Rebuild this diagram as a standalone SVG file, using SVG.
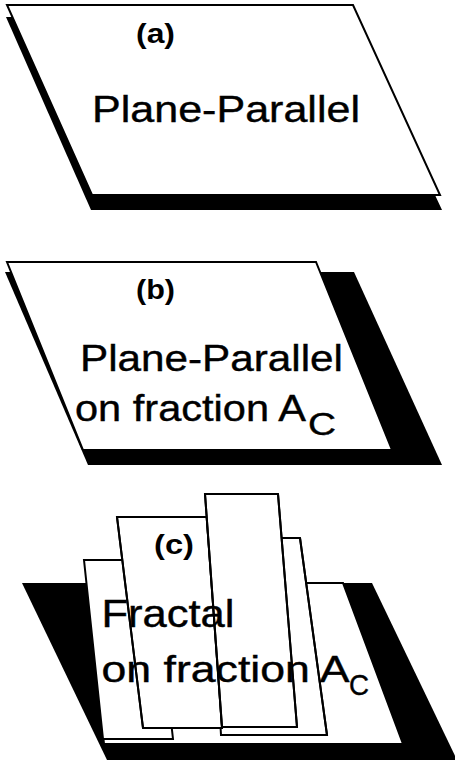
<svg xmlns="http://www.w3.org/2000/svg" width="455" height="761" viewBox="0 0 455 761">
<style>
.bg{fill:#fff}
.shadow{fill:#000;stroke:none}
.plate{fill:#fff;stroke:#000;stroke-width:2;stroke-linejoin:miter}
.edge{fill:none;stroke:#000;stroke-width:2}
.big{font-family:"Liberation Sans",Arial,sans-serif;font-size:37px;fill:#000;stroke:#000;stroke-width:0.4}
.lab{font-family:"Liberation Sans",Arial,sans-serif;font-size:27px;font-weight:bold;fill:#000}
</style>
<rect class="bg" x="0" y="0" width="455" height="761"/>
<g id="panel-a">
  <polygon class="shadow" points="6,17 352,17 442,210 91,210"/>
  <polygon class="plate" points="7,5 353,5 440,195 92,195"/>
  <text class="lab" x="136" y="43" textLength="39" lengthAdjust="spacingAndGlyphs">(a)</text>
  <text class="big" x="92" y="122" textLength="268" lengthAdjust="spacingAndGlyphs">Plane-Parallel</text>
</g>
<g id="panel-b">
  <polygon class="shadow" points="5,272 354,272 442,465 88,465"/>
  <polygon class="plate" points="7,262 316,262 392,450 83,450"/>
  <text class="lab" x="136" y="299" textLength="39" lengthAdjust="spacingAndGlyphs">(b)</text>
  <text class="big" x="80" y="371" textLength="263" lengthAdjust="spacingAndGlyphs">Plane-Parallel</text>
  <text class="big" x="75" y="421" textLength="231" lengthAdjust="spacingAndGlyphs">on fraction A</text>
  <text class="big" x="308" y="434.5" style="font-size:31px" textLength="28" lengthAdjust="spacingAndGlyphs">C</text>
</g>
<g id="panel-c">
  <polygon class="shadow" points="22,583 372,583 457,760 107,760"/>
  <polygon class="plate" points="88,583 343,583 403,744 104,744"/>
  <polygon class="plate" points="84,560 153,560 173,739 103,739"/>
  <polygon class="plate" points="210,538 300,538 327,735 221,735"/>
  <polygon class="plate" points="117,517 206.7,517 222,728 143,728"/>
  <polygon class="plate" points="205,494 278,494 297,727 222,727"/>
  <text class="lab" x="154" y="554" textLength="40" lengthAdjust="spacingAndGlyphs">(c)</text>
  <text class="big" x="101.5" y="627" style="font-size:38px" textLength="133" lengthAdjust="spacingAndGlyphs">Fractal</text>
  <text class="big" x="101.5" y="682" textLength="248" lengthAdjust="spacingAndGlyphs">on fraction A</text>
  <text class="big" x="349" y="694.5" style="font-size:30px" textLength="20" lengthAdjust="spacingAndGlyphs">C</text>
</g>
<g id="connectors">
  <line class="edge" x1="117" y1="517" x2="143" y2="728"/>
  <line class="edge" x1="205" y1="494" x2="222" y2="727"/>
  <line class="edge" x1="278" y1="494" x2="297" y2="727"/>
  <line class="edge" x1="300" y1="538" x2="327" y2="735"/>
</g>
</svg>
